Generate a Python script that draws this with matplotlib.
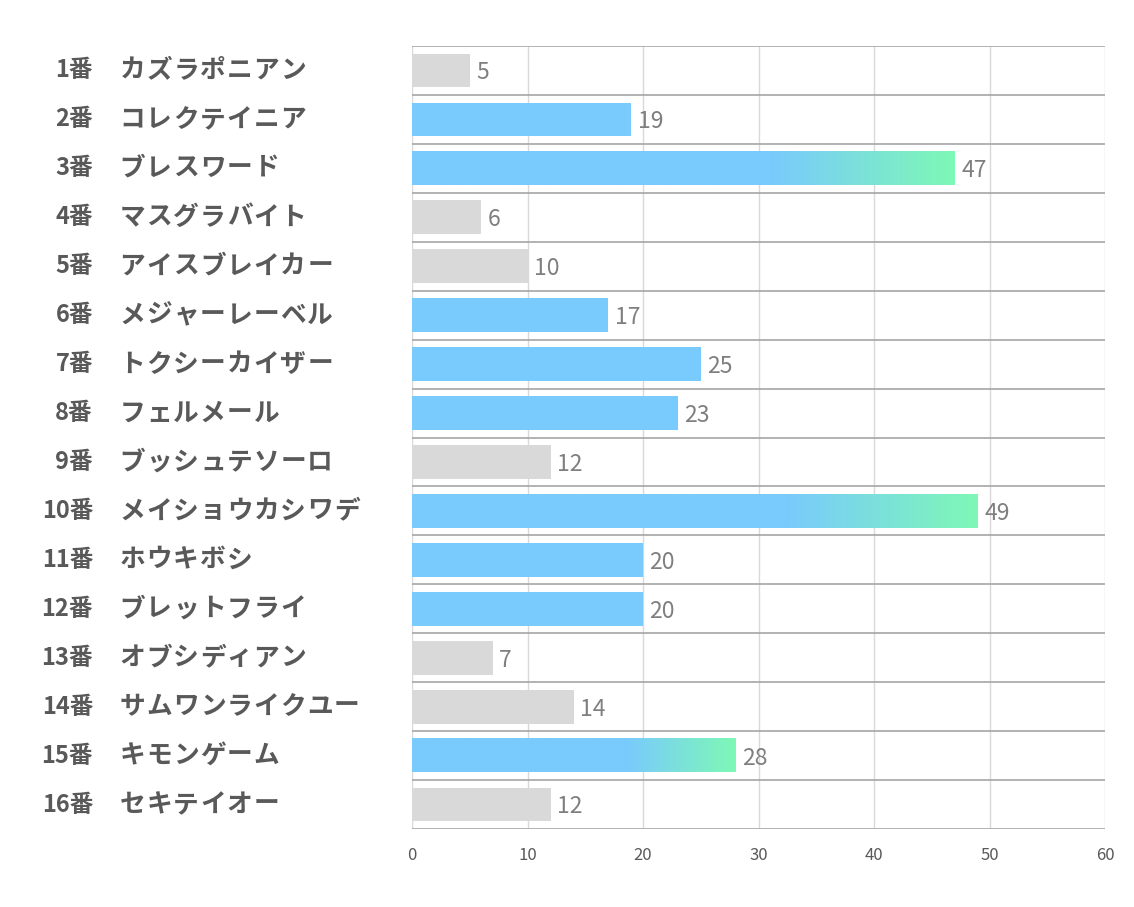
import numpy as np
import matplotlib
matplotlib.use("Agg")
import matplotlib.pyplot as plt
from matplotlib.colors import LinearSegmentedColormap
import matplotlib.transforms as mtransforms

plt.rcParams['font.family'] = ['Noto Sans CJK JP', 'DejaVu Sans']

# data
nums = ["1番", "2番", "3番", "4番", "5番", "6番", "7番", "8番",
        "9番", "10番", "11番", "12番", "13番", "14番", "15番", "16番"]
names = ["カズラポニアン", "コレクテイニア", "ブレスワード", "マスグラバイト",
         "アイスブレイカー", "メジャーレーベル", "トクシーカイザー", "フェルメール",
         "ブッシュテソーロ", "メイショウカシワデ", "ホウキボシ", "ブレットフライ",
         "オブシディアン", "サムワンライクユー", "キモンゲーム", "セキテイオー"]
values = [5, 19, 47, 6, 10, 17, 25, 23, 12, 49, 20, 20, 7, 14, 28, 12]
kinds = ["gray", "blue", "grad", "gray", "gray", "blue", "blue", "blue",
         "gray", "grad", "blue", "blue", "gray", "gray", "grad", "gray"]
xticks = [0, 10, 20, 30, 40, 50, 60]

GRAY = "#d9d9d9"
BLUE = "#79cafd"
GREEN = "#7ef8b6"
TXT = "#595959"
bar_h = 0.69

fig = plt.figure(figsize=(11.34, 9.07), dpi=100)
ax = fig.add_axes([412/1134, 1 - 829/907, (1105-412)/1134, (829-46)/907])

y = np.arange(len(values))
cols = [GRAY if k == "gray" else BLUE for k in kinds]
alphas = [0 if k == "grad" else 1 for k in kinds]
bars = ax.barh(y, values, height=bar_h, color=cols, zorder=2)
for b, a in zip(bars, alphas):
    b.set_alpha(a)

# gradient bars: blue up to ~2/3 of the length, then fade to green
cmap = LinearSegmentedColormap.from_list("bg", [(0, BLUE), (0.66, BLUE), (1, GREEN)])
grad = np.linspace(0, 1, 512).reshape(1, -1)
for i, (v, k) in enumerate(zip(values, kinds)):
    if k == "grad":
        ax.imshow(grad, cmap=cmap, aspect="auto", zorder=3, interpolation="bilinear",
                  extent=[0, v, i + bar_h / 2, i - bar_h / 2])

for i, v in enumerate(values):
    ax.text(v + 0.55, i + 0.05, str(v), va="center", ha="left", fontsize=16.5,
            color="#7f7f7f", zorder=4)

ax.set_xlim(0, 60)
ax.set_ylim(len(values) - 0.5, -0.5)
ax.set_xticks(xticks)
ax.set_yticks([])
ax.tick_params(axis="x", length=0, pad=13, labelsize=12, labelcolor=TXT)
for x in xticks:
    ax.axvline(x, color="#d9d9d9", lw=1, zorder=1)
for b in np.arange(-0.5, len(values), 1):
    ax.axhline(b, color="#a6a6a6", lw=1.2, zorder=1)
for s in ax.spines.values():
    s.set_visible(False)

# row labels: number right aligned, name in fixed-pitch cells
tr = mtransforms.blended_transform_factory(fig.transFigure, ax.transData)
pitch = 26.8
for i in range(len(values)):
    ax.text(93/1134, i, nums[i], transform=tr, ha="right", va="center",
            fontsize=17, fontweight="bold", color=TXT)
    for k, ch in enumerate(names[i]):
        cx = 119 + pitch * k + pitch / 2
        ax.text(cx/1134, i, ch, transform=tr, ha="center", va="center",
                fontsize=18.5, fontweight="bold", color=TXT)

fig.savefig("out.png", dpi=100)
